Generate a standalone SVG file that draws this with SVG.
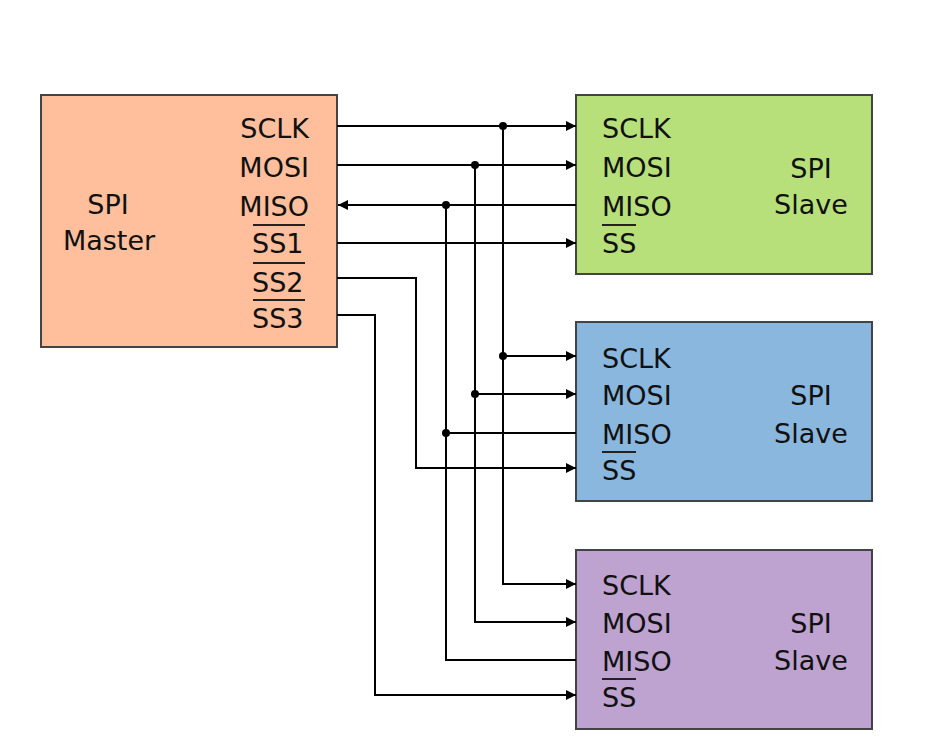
<svg xmlns="http://www.w3.org/2000/svg" width="950" height="740" viewBox="0 0 950 740">
<style>
.box{stroke:#444;stroke-width:2}
text{font-family:"DejaVu Sans",sans-serif;font-size:27px;fill:#111}
.w{fill:none;stroke:#000;stroke-width:2}
.ol{stroke:#222;stroke-width:2}
</style>
<defs>
<marker id="a" markerWidth="10" markerHeight="10" refX="10" refY="5" orient="auto" markerUnits="userSpaceOnUse" viewBox="0 0 10 10"><path d="M0,0L10,5L0,10z" fill="#000"/></marker>
</defs>
<rect width="950" height="740" fill="#fff"/>
<g id="master">
<rect class="box" x="41" y="95" width="296" height="252" fill="#ffbf9c"/>
<text x="108" y="214" text-anchor="middle">SPI</text>
<text x="109" y="250" text-anchor="middle">Master</text>
<text x="309" y="138" text-anchor="end">SCLK</text>
<text x="309" y="177" text-anchor="end">MOSI</text>
<text x="309" y="216" text-anchor="end">MISO</text>
<text x="252" y="253">SS1</text>
<text x="252" y="292">SS2</text>
<text x="252" y="328">SS3</text>
<line class="ol" x1="253" y1="225" x2="305" y2="225"/>
<line class="ol" x1="253" y1="263" x2="305" y2="263"/>
<line class="ol" x1="253" y1="300" x2="305" y2="300"/>
</g>
<g id="slave1">
<rect class="box" x="576" y="95" width="296" height="179" fill="#b8e07a"/>
<text x="602" y="138">SCLK</text><text x="602" y="177">MOSI</text><text x="602" y="216">MISO</text><text x="602" y="253">SS</text>
<line class="ol" x1="602" y1="225" x2="636" y2="225"/>
<text x="811" y="178" text-anchor="middle">SPI</text><text x="811" y="214" text-anchor="middle">Slave</text>
</g>
<g id="slave2">
<rect class="box" x="576" y="322" width="296" height="179" fill="#8ab7dd"/>
<text x="602" y="368">SCLK</text><text x="602" y="405">MOSI</text><text x="602" y="444">MISO</text><text x="602" y="480">SS</text>
<line class="ol" x1="602" y1="452" x2="636" y2="452"/>
<text x="811" y="405" text-anchor="middle">SPI</text><text x="811" y="443" text-anchor="middle">Slave</text>
</g>
<g id="slave3">
<rect class="box" x="576" y="550" width="296" height="179" fill="#bea2cf"/>
<text x="602" y="595">SCLK</text><text x="602" y="633">MOSI</text><text x="602" y="671">MISO</text><text x="602" y="707">SS</text>
<line class="ol" x1="602" y1="679" x2="636" y2="679"/>
<text x="811" y="633" text-anchor="middle">SPI</text><text x="811" y="670" text-anchor="middle">Slave</text>
</g>
<g id="connectors">
<path class="w" d="M337,126H576" marker-end="url(#a)"/>
<path class="w" d="M337,165H576" marker-end="url(#a)"/>
<path class="w" d="M576,205H338" marker-end="url(#a)"/>
<path class="w" d="M337,243H576" marker-end="url(#a)"/>
<path class="w" d="M337,278H416V468H576" marker-end="url(#a)"/>
<path class="w" d="M337,315H375V695H576" marker-end="url(#a)"/>
<path class="w" d="M503,126V584H576" marker-end="url(#a)"/>
<path class="w" d="M503,356H576" marker-end="url(#a)"/>
<path class="w" d="M475,165V622H576" marker-end="url(#a)"/>
<path class="w" d="M475,394H576" marker-end="url(#a)"/>
<path class="w" d="M446,205V660H576"/>
<path class="w" d="M446,433H576"/>
<g fill="#000"><circle cx="503" cy="126" r="4"/><circle cx="475" cy="165" r="4"/><circle cx="446" cy="205" r="4"/><circle cx="503" cy="356" r="4"/><circle cx="475" cy="394" r="4"/><circle cx="446" cy="433" r="4"/></g>
</g>
</svg>
